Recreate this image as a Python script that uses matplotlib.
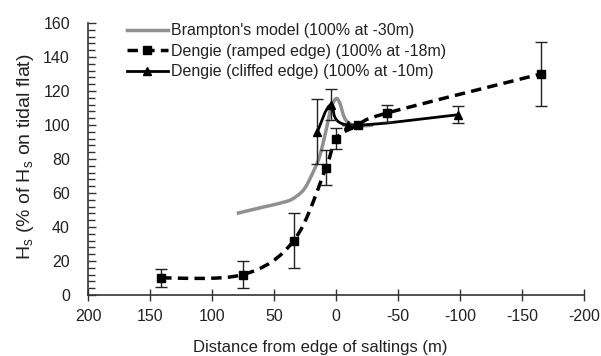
import numpy as np
import matplotlib
matplotlib.use("Agg")
import matplotlib.pyplot as plt
from matplotlib.path import Path
from matplotlib.patches import PathPatch
from matplotlib.ticker import MultipleLocator

plt.rcParams['font.family'] = ['Liberation Sans', 'DejaVu Sans']

# Brampton's model
bram_x = [80, 60, 40, 32, 25, 18, 13, 8, 4, 0, -3, -7, -12, -20, -30]
bram_y = [48, 51.5, 55, 58, 63, 73, 82, 97, 110, 115.5, 113, 104, 100.5, 99.5, 100]

# Dengie ramped edge
ramp_x = [141, 75, 34, 8, 0, -18, -41, -165]
ramp_y = [10, 12, 32, 75, 92, 100, 107, 130]
ramp_err = [5.5, 8, 16, 10, 6, 0, 5, 19]

# Dengie cliffed edge
cliff_x = [15, 4, -10, -98]
cliff_y = [96, 112, 100, 106]
cliff_err = [19, 9, 0, 5]

labels = ["Brampton's model (100% at -30m)",
          "Dengie (ramped edge) (100% at -18m)",
          "Dengie (cliffed edge) (100% at -10m)"]


def smooth_path(x, y):
    # Excel-style smoothed line: cubic Bezier segments through the points
    p = np.column_stack([x, y]).astype(float)
    verts = [p[0]]
    codes = [Path.MOVETO]
    n = len(p)
    for i in range(n - 1):
        p0 = p[i - 1] if i > 0 else p[i]
        p3 = p[i + 2] if i + 2 < n else p[i + 1]
        c1 = p[i] + (p[i + 1] - p0) / 6.0
        c2 = p[i + 1] - (p3 - p[i]) / 6.0
        verts += [c1, c2, p[i + 1]]
        codes += [Path.CURVE4] * 3
    return Path(verts, codes)


fig = plt.figure(figsize=(6.01, 3.56), dpi=100)
ax = fig.add_axes([88 / 601, 61 / 356, 496 / 601, 272 / 356])

ax.add_patch(PathPatch(smooth_path(bram_x, bram_y), fill=False,
                       edgecolor='#909090', lw=2.5, zorder=2))
ax.add_patch(PathPatch(smooth_path(ramp_x, ramp_y), fill=False,
                       edgecolor='black', lw=2.5, linestyle=(0, (3, 1.8)), zorder=3))
ax.add_patch(PathPatch(smooth_path(cliff_x, cliff_y), fill=False,
                       edgecolor='black', lw=2.0, zorder=3))

ax.errorbar(ramp_x, ramp_y, yerr=ramp_err, fmt='s', color='black', ms=6,
            ecolor='#222222', elinewidth=1.0, capsize=4, capthick=1.0, zorder=4)
ax.errorbar(cliff_x, cliff_y, yerr=cliff_err, fmt='^', color='black', ms=6,
            ecolor='#222222', elinewidth=1.0, capsize=4, capthick=1.0, zorder=4)

# legend handles
h1, = ax.plot([], [], color='#909090', lw=2.5)
h2, = ax.plot([], [], color='black', lw=2.5, linestyle=(0, (3, 1.8)),
              marker='s', ms=6)
h3, = ax.plot([], [], color='black', lw=2.0, marker='^', ms=6)
leg = ax.legend([h1, h2, h3], labels, loc='upper left',
                bbox_to_anchor=(0.065, 1.023), frameon=False,
                fontsize=11.5, handlelength=2.6, handletextpad=0.15,
                labelspacing=0.35, borderaxespad=0)
for t in leg.get_texts():
    t.set_color('#222222')

ax.set_xlim(200, -200)
ax.set_ylim(0, 160)
ax.xaxis.set_major_locator(MultipleLocator(50))
ax.yaxis.set_major_locator(MultipleLocator(20))
ax.yaxis.set_minor_locator(MultipleLocator(4))

for s in ['top', 'right']:
    ax.spines[s].set_visible(False)
for s in ['left', 'bottom']:
    ax.spines[s].set_color('#333333')
    ax.spines[s].set_linewidth(1.2)

ax.tick_params(axis='x', direction='inout', length=8, width=1,
               color='#333333', labelsize=11.5, labelcolor='#222222', pad=6)
ax.tick_params(axis='y', which='major', direction='in', length=6, width=1,
               color='#333333', labelsize=11.5, labelcolor='#222222', pad=13)
ax.tick_params(axis='y', which='minor', direction='in', length=5, width=1,
               color='#333333')

ax.set_xticks([200, 150, 100, 50, 0, -50, -100, -150, -200])
ax.set_xticklabels(['200', '150', '100', '50', '0', '-50', '-100', '-150', '-200'])

ax.set_xlabel("Distance from edge of saltings (m)", fontsize=12, color='#222222')
ax.xaxis.set_label_coords((320 - 88) / 496, -0.165)
ax.set_ylabel(r"H$_\mathregular{s}$ (% of H$_\mathregular{s}$ on tidal flat)",
              fontsize=14, color='#222222')
ax.yaxis.set_label_coords(-0.105, (295 - 157) / 272)

fig.savefig("out.png", dpi=100)
